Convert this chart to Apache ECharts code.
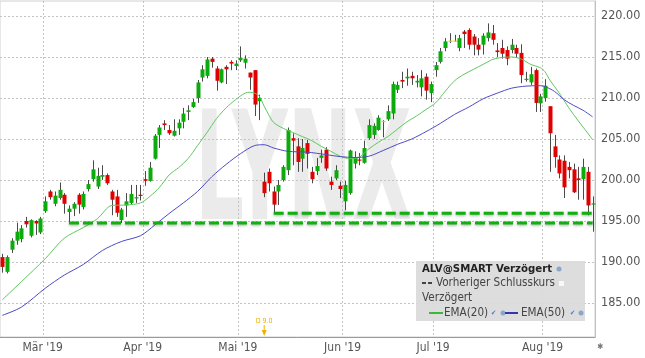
<!DOCTYPE html>
<html><head><meta charset="utf-8">
<script src="https://cdn.jsdelivr.net/npm/echarts@6/dist/echarts.min.js"></script>
<style>html,body{margin:0;padding:0;background:#fff}#c{width:645px;height:358px}</style>
</head><body><div id="c"></div>
<script>
// ---- data ----
const opens = [190.6,188.8,191.5,192.6,192.8,195.0,193.2,195.0,193.6,196.2,198.6,197.1,197.8,198.2,196.1,196.5,198.2,196.7,198.9,200.1,199.2,200.4,200.6,198.6,198.0,195.1,196.9,197.2,197.8,198.2,200.1,199.9,202.6,205.5,206.9,206.1,205.4,206.3,207.1,208.3,208.9,210.0,212.5,212.7,214.8,213.6,211.9,213.8,214.4,213.9,214.6,214.3,213.1,213.4,209.6,199.8,201.0,198.6,198.6,200.0,201.2,205.1,204.1,202.6,204.5,201.0,201.1,202.7,203.7,199.8,200.2,199.3,197.4,198.4,202.0,202.5,202.1,205.1,205.5,206.1,207.2,207.4,208.1,211.0,212.2,212.4,212.7,211.9,211.3,212.6,210.6,213.4,214.4,216.1,217.0,217.0,216.1,218.1,218.3,217.5,216.5,216.5,217.3,217.9,215.8,216.1,215.85,215.85,216.1,215.5,212.25,211.9,213.4,209.35,210.0,209.0,204.1,202.5,202.35,201.6,201.3,200.2,200.1,201.0,197.05];
const closes = [189.4,190.6,192.6,193.7,194.1,194.6,195.1,194.7,195.3,197.4,197.9,198.1,198.8,197.1,196.5,197.1,197.0,198.3,199.5,201.3,200.5,200.6,199.6,197.6,196.0,196.4,197.4,198.3,197.9,198.1,199.9,201.5,205.4,206.4,206.7,205.7,206.0,207.0,208.1,208.5,209.5,211.9,213.5,214.7,214.4,212.1,213.5,213.5,214.2,214.2,214.9,214.8,212.5,209.2,210.0,198.4,199.6,197.0,199.4,201.6,206.1,204.8,202.2,203.9,203.2,200.1,201.7,203.0,201.4,199.4,201.2,198.9,199.4,203.6,202.8,202.4,203.9,206.7,206.6,207.6,207.2,208.4,211.7,211.6,212.0,212.6,212.4,212.1,212.4,210.9,211.7,214.0,215.7,216.9,217.0,217.0,217.3,217.8,216.5,216.5,215.9,217.6,218.0,217.1,215.6,215.4,214.8,216.5,215.4,212.8,212.35,212.9,209.4,210.2,211.5,205.7,202.8,200.8,199.1,201.2,198.5,200.0,201.6,196.9,197.15];
const lows = [188.7,188.6,191.1,192.1,192.4,194.2,193.0,193.3,193.4,196.0,197.6,196.8,197.6,195.9,194.75,195.6,195.9,196.4,198.6,199.8,198.9,200.0,199.4,195.7,195.5,194.75,195.5,197.0,197.2,197.5,199.3,199.8,202.5,203.9,206.1,205.5,205.3,205.5,206.3,207.3,208.8,209.4,212.0,212.4,213.7,210.9,211.8,211.7,213.4,213.4,214.4,213.6,211.0,207.8,207.3,197.9,198.6,195.95,196.95,199.8,200.6,201.8,201.0,201.0,201.4,199.6,200.6,202.1,201.1,198.8,200.0,197.8,196.3,198.2,201.4,201.8,202.0,204.9,205.0,206.0,205.2,207.2,207.4,210.6,211.2,211.5,211.6,211.3,210.2,209.8,209.5,212.6,214.2,215.7,216.7,216.9,215.7,216.1,215.9,215.2,215.2,215.3,216.9,216.5,215.0,214.8,214.0,215.45,214.9,211.8,212.0,211.6,208.3,208.3,209.55,201.0,201.5,200.2,197.8,200.2,198.4,197.6,197.6,195.7,193.7];
const highs = [191.0,190.8,192.9,194.8,194.5,195.5,195.2,195.1,195.5,198.0,198.8,198.6,199.7,198.4,196.9,197.3,198.4,198.6,200.0,202.4,201.5,201.8,200.8,198.8,198.8,196.6,198.4,199.4,199.4,199.4,201.1,202.2,205.6,206.7,207.3,206.7,207.4,207.4,208.8,209.1,209.9,212.2,214.0,215.0,215.0,213.9,213.6,214.0,214.6,214.6,216.3,215.2,213.1,213.4,210.4,200.9,201.4,199.2,200.0,201.8,206.4,205.7,205.1,205.0,204.9,201.6,202.7,203.7,204.0,200.4,201.8,199.8,199.9,203.7,203.5,203.3,204.8,207.4,206.9,207.9,207.3,209.1,212.0,212.0,213.2,213.6,213.2,212.8,213.4,213.0,212.0,214.4,216.1,217.3,217.9,217.7,217.7,218.3,218.5,217.8,217.3,217.9,219.1,218.9,216.7,217.1,216.3,217.2,216.5,216.55,213.2,213.8,213.6,210.5,212.3,209.0,205.5,203.0,203.0,202.2,202.0,201.6,202.6,201.6,198.0];

const ema20Idx = [0,4,9,13,17,20,23,26,29,31,33,35,37,39,41,43,45,47,49,51,52,53,54,55,56,57,59,61,63,65,67,69,71,73,75,77,79,81,83,85,87,89,91,93,95,97,99,101,103,105,107,109,111,113,114,115,117,119,121,123,124];
const ema20Val = [185.4,187.6,190.4,192.9,194.2,195.3,196.9,196.95,197.2,198.0,199.1,200.6,201.5,202.6,204.2,205.8,207.5,208.8,209.8,210.6,210.7,210.6,210.2,209.0,207.9,207.0,206.3,205.8,205.3,204.8,204.1,203.5,202.9,202.6,202.8,203.8,204.6,205.3,206.2,207.1,207.8,208.6,209.4,210.8,212.1,212.9,213.5,214.1,214.7,214.95,215.0,214.75,214.1,213.7,213.2,212.2,210.6,208.8,207.2,205.7,204.9];
const ema50Idx = [0,4,9,13,17,21,25,29,32,35,38,41,44,47,50,53,55,57,60,64,68,71,74,77,80,83,86,89,92,95,98,101,104,107,110,113,114,116,118,120,122,124];
const ema50Val = [183.5,184.5,186.8,188.4,189.7,191.4,192.5,193.2,194.5,195.9,197.2,198.6,200.4,201.9,203.2,204.2,204.3,203.9,203.5,203.4,203.1,202.85,202.75,202.9,203.6,204.35,205.0,205.9,206.9,208.0,208.9,209.9,210.6,211.2,211.45,211.5,211.4,210.8,209.8,209.1,208.5,207.7];

const supportLevels = [194.75, 195.95];
const supportStarts = [14, 57];

const monthStartIdx = [9,30,50,72,91,114];
const monthLabels = ["Mär '19","Apr '19","Mai '19","Jun '19","Jul '19","Aug '19"];
const yTicks = [185,190,195,200,205,210,215,220];
const dividendIdx = 55;
const dividendText = 'D 9.0';
const legendTitle = 'ALV@SMART Verzögert';
const legendPrev = 'Vorheriger Schlusskurs';
const legendSub = 'Verzögert';
const legendEma = ['EMA(20)', 'EMA(50)'];

// ---- build ----
const N = opens.length;
const cats = opens.map((_, i) => String(i));
const candleData = opens.map((o, i) => [i, o, closes[i], lows[i], highs[i]]);
const FONT = "'DejaVu Sans Condensed','Open Sans',sans-serif";
const UP = '#0cab0c', DOWN = '#e10000', DOJI = '#e8c800';

function renderCandle(params, api) {
  const i = api.value(0), o = api.value(1), c = api.value(2), l = api.value(3), h = api.value(4);
  const pO = api.coord([i, o]), pC = api.coord([i, c]), pL = api.coord([i, l]), pH = api.coord([i, h]);
  const cx = Math.round(pO[0]);
  const top = Math.min(pO[1], pC[1]);
  const bot = Math.max(pO[1], pC[1]);
  const color = c > o ? UP : (c < o ? DOWN : DOJI);
  return {
    type: 'group',
    children: [
      { type: 'line', shape: { x1: cx + 0.5, y1: pH[1], x2: cx + 0.5, y2: pL[1] }, style: { stroke: '#4a4a4a', lineWidth: 1 } },
      { type: 'rect', shape: { x: cx - 1.5, y: top, width: 4, height: Math.max(bot - top, 1.2) }, style: { fill: color } }
    ]
  };
}

const series = [
  { type: 'custom', renderItem: renderCandle, data: candleData, encode: { x: 0, y: [1, 2, 3, 4] }, z: 3, silent: true },
  { type: 'line', data: ema20Idx.map((x, k) => [x, ema20Val[k]]), smooth: 0.3, showSymbol: false, lineStyle: { color: '#5fc85f', width: 1 }, z: 4, silent: true },
  { type: 'line', data: ema50Idx.map((x, k) => [x, ema50Val[k]]), smooth: 0.3, showSymbol: false, lineStyle: { color: '#4b4bc3', width: 1 }, z: 4, silent: true }
];
supportLevels.forEach((v, k) => {
  series.push({
    type: 'line', data: [[supportStarts[k], v], [N - 1, v]], showSymbol: false, z: 5, silent: true,
    lineStyle: { color: '#11b011', width: 3, type: [10, 4], shadowColor: 'rgba(0,0,0,0.35)', shadowBlur: 3, shadowOffsetY: 1 }
  });
});

const chart = echarts.init(document.getElementById('c'), null, { renderer: 'canvas' });
chart.setOption({
  animation: false,
  backgroundColor: '#fff',
  grid: { left: 0, right: 50, top: 1, bottom: 21, show: true, borderColor: '#d0d0d0', borderWidth: 1, backgroundColor: 'transparent' },
  xAxis: {
    type: 'category', data: cats, boundaryGap: true,
    axisLine: { show: true, lineStyle: { color: '#9a9a9a' } },
    axisTick: { show: false },
    axisLabel: {
      interval: (idx) => monthStartIdx.indexOf(idx) >= 0,
      formatter: (val, idx) => { const k = monthStartIdx.indexOf(Number(val)); return k >= 0 ? monthLabels[k] : ''; },
      color: '#555', fontFamily: FONT, fontSize: 12, margin: 5, padding: [0, 5, 0, 0]
    },
    splitLine: { show: true, interval: (idx) => monthStartIdx.indexOf(idx) >= 0, lineStyle: { color: '#c4c4c4', type: [2, 2] } }
  },
  yAxis: {
    type: 'value', position: 'right', min: 180.854, max: 221.83, scale: true,
    axisLine: { show: true, lineStyle: { color: '#c0c0c0' } },
    axisTick: { show: false, customValues: yTicks },
    axisLabel: { customValues: yTicks, formatter: (v) => Number(v).toFixed(2), color: '#555', fontFamily: FONT, fontSize: 12.5, margin: 6 },
    splitLine: { show: true, lineStyle: { color: '#c4c4c4', type: [2, 2] } }
  },
  series: series
});

// ---- annotations ----
const divX = chart.convertToPixel({ xAxisIndex: 0 }, dividendIdx);
const LX = 416, LY = 261;
chart.setOption({
  graphic: [
    { type: 'text', x: 195, y: 180, scaleX: 0.51, z: -10, silent: true,
      style: { text: 'LYNX', font: 'bold 151px "DejaVu Sans"', fill: '#ebebeb', align: 'left', verticalAlign: 'middle' } },
    { type: 'rect', shape: { x: LX, y: LY, width: 169, height: 60 }, style: { fill: 'rgba(218,218,218,0.92)' }, z: 100 },
    { type: 'text', x: LX + 6, y: LY + 8, z: 101, style: { text: legendTitle, font: 'bold 11.3px ' + FONT, fill: '#222', verticalAlign: 'middle' } },
    { type: 'circle', shape: { cx: LX + 143, cy: LY + 8, r: 2.5 }, style: { fill: '#8aa6cc' }, z: 101 },
    { type: 'line', shape: { x1: LX + 6, y1: LY + 22, x2: LX + 10, y2: LY + 22 }, style: { stroke: '#444', lineWidth: 2 }, z: 101 },
    { type: 'line', shape: { x1: LX + 12, y1: LY + 22, x2: LX + 16, y2: LY + 22 }, style: { stroke: '#444', lineWidth: 2 }, z: 101 },
    { type: 'text', x: LX + 20, y: LY + 22, z: 101, style: { text: legendPrev, font: '11.6px ' + FONT, fill: '#444', verticalAlign: 'middle' } },
    { type: 'rect', shape: { x: LX + 143, y: LY + 20, width: 5, height: 5 }, style: { fill: '#f8f8f8' }, z: 101 },
    { type: 'text', x: LX + 6, y: LY + 37, z: 101, style: { text: legendSub, font: '11.6px ' + FONT, fill: '#444', verticalAlign: 'middle' } },
    { type: 'line', shape: { x1: LX + 13, y1: LY + 52, x2: LX + 27, y2: LY + 52 }, style: { stroke: '#3cb83c', lineWidth: 2 }, z: 101 },
    { type: 'text', x: LX + 28, y: LY + 52, z: 101, style: { text: legendEma[0], font: '11.6px ' + FONT, fill: '#444', verticalAlign: 'middle' } },
    { type: 'text', x: LX + 75, y: LY + 52, z: 101, style: { text: '✔', font: '7px ' + FONT, fill: '#4a7fd0', verticalAlign: 'middle' } },
    { type: 'circle', shape: { cx: LX + 87, cy: LY + 52, r: 2.5 }, style: { fill: '#8aa6cc' }, z: 101 },
    { type: 'line', shape: { x1: LX + 89, y1: LY + 52, x2: LX + 102, y2: LY + 52 }, style: { stroke: '#3535b5', lineWidth: 2 }, z: 101 },
    { type: 'text', x: LX + 105, y: LY + 52, z: 101, style: { text: legendEma[1], font: '11.6px ' + FONT, fill: '#444', verticalAlign: 'middle' } },
    { type: 'text', x: LX + 154, y: LY + 52, z: 101, style: { text: '✔', font: '7px ' + FONT, fill: '#4a7fd0', verticalAlign: 'middle' } },
    { type: 'circle', shape: { cx: LX + 165, cy: LY + 52, r: 2.5 }, style: { fill: '#8aa6cc' }, z: 101 },
    { type: 'text', x: divX, y: 321, z: 101, style: { text: dividendText, font: '7px ' + FONT, fill: '#f0b000', align: 'center', verticalAlign: 'middle' } },
    { type: 'line', shape: { x1: divX, y1: 325, x2: divX, y2: 333 }, style: { stroke: '#f0b000', lineWidth: 1 }, z: 101 },
    { type: 'polygon', shape: { points: [[divX - 2.5, 330], [divX + 2.5, 330], [divX, 336]] }, style: { fill: '#f0b000' }, z: 101 },
    { type: 'text', x: 600, y: 347, z: 101, style: { text: '✱', font: '8px ' + FONT, fill: '#777', align: 'center', verticalAlign: 'middle' } }
  ]
});
</script>
</body></html>
